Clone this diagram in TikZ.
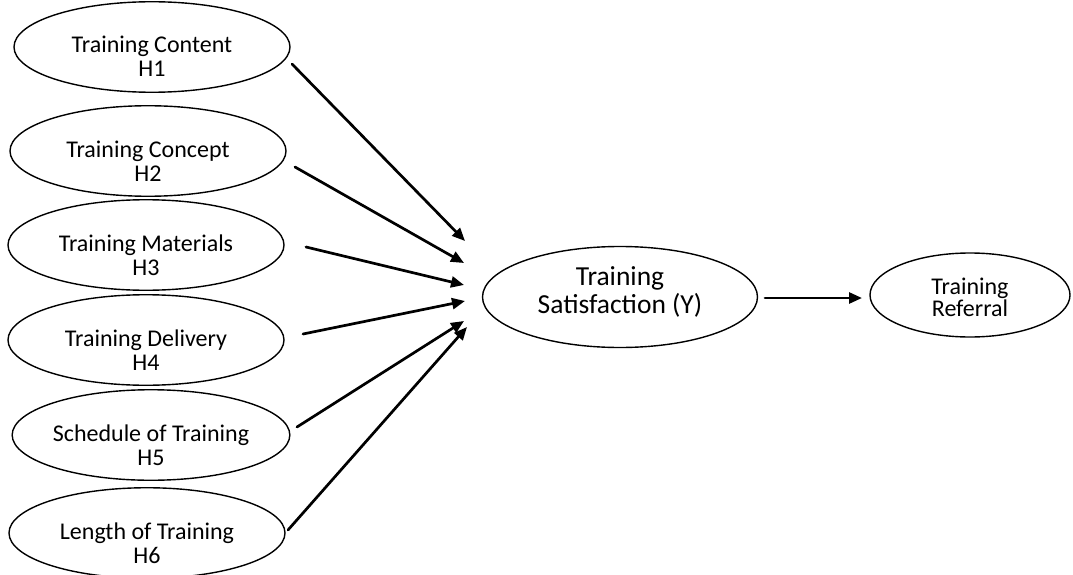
\documentclass[tikz,border=0pt]{standalone}
\usepackage{fontspec}
\setmainfont{Carlito}
\usetikzlibrary{shapes.geometric,arrows.meta}

\begin{document}
\begin{tikzpicture}[
            x=1pt,
            y=-1pt,
            line cap=round,
            line join=round,
            factor/.style={ellipse, draw, line width=1.4pt, inner sep=0pt,
                minimum width=276pt, minimum height=83pt, align=center,
                text height=62pt, text depth=2pt,
                font=\fontsize{24}{24}\selectfont},
            link/.style={line width=2.7pt, -{Triangle[length=13pt,width=11pt]}}
        ]
            \useasboundingbox (0,0) rectangle (1073,575);

            % Hypotheses on the left
            \node[factor] (h1) at (152,47) {Training Content\\H1};
            \node[factor] (h2) at (148,151) {Training Concept\\H2};
            \node[factor] (h3) at (146,245) {Training Materials\\H3};
            \node[factor] (h4) at (146,340) {Training Delivery\\H4};
            \node[factor] (h5) at (151,435) {Schedule of Training\\H5};
            \node[factor] (h6) at (147,533) {Length of Training\\H6};

            % Outcome and referral
            \node[factor, minimum width=275pt, minimum height=101pt,
                text height=34pt, text depth=2pt,
                font=\fontsize{27.5}{28}\selectfont] (sat) at (620,297) {Training\\Satisfaction (Y)};
            \node[factor, minimum width=200pt, minimum height=84pt,
                text height=44pt, text depth=2pt,
                font=\fontsize{24}{22}\selectfont] (ref) at (970,295) {Training\\Referral};

            % Arrow ends
            \coordinate (s1) at (292,64);   \coordinate (t1) at (465,241);
            \coordinate (s2) at (295,167);  \coordinate (t2) at (464,263);
            \coordinate (s3) at (306,247);  \coordinate (t3) at (464,285);
            \coordinate (s4) at (303,334);  \coordinate (t4) at (465,301);
            \coordinate (s5) at (297,427);  \coordinate (t5) at (464,321);
            \coordinate (s6) at (288,530);  \coordinate (t6) at (467,327);
            \coordinate (s7) at (765,298);  \coordinate (t7) at (862,298);

            % Paths into satisfaction
            \draw[link] (s1) -- (t1);
            \draw[link] (s2) -- (t2);
            \draw[link] (s3) -- (t3);
            \draw[link] (s4) -- (t4);
            \draw[link] (s5) -- (t5);
            \draw[link] (s6) -- (t6);

            % Satisfaction to referral
            \draw[link] (s7) -- (t7);
        \end{tikzpicture}
\end{document}
